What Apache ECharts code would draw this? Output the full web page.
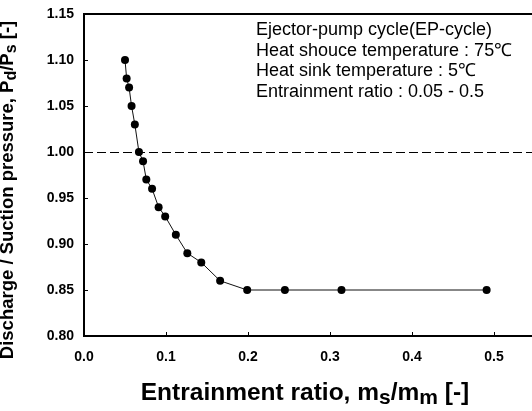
<!DOCTYPE html>
<html>
<head>
<meta charset="utf-8">
<script src="https://cdn.jsdelivr.net/npm/echarts@6/dist/echarts.min.js"></script>
<style>
html,body{margin:0;padding:0;background:#fff;}
#chart{width:532px;height:411px;}
</style>
</head>
<body>
<div id="chart"></div>
<script>
// Data
const entrainmentRatio = [0.050, 0.052, 0.055, 0.058, 0.062, 0.067, 0.072, 0.076, 0.083, 0.091, 0.099, 0.112, 0.126, 0.143, 0.166, 0.199, 0.245, 0.314, 0.491];
const pressureRatio    = [1.10, 1.08, 1.07, 1.05, 1.03, 1.00, 0.99, 0.97, 0.96, 0.94, 0.93, 0.91, 0.89, 0.88, 0.86, 0.85, 0.85, 0.85, 0.85];
const referenceLine = 1.0;
const xTicks = [0.0, 0.1, 0.2, 0.3, 0.4, 0.5, 0.6];
const yTicks = [0.80, 0.85, 0.90, 0.95, 1.00, 1.05, 1.10, 1.15];
const infoLines = [
  'Ejector-pump cycle(EP-cycle)',
  'Heat shouce temperature : 75\u2103',
  'Heat sink temperature : 5\u2103',
  'Entrainment ratio : 0.05 - 0.5'
];

const FONT = 'Liberation Sans, Arial, sans-serif';
const chart = echarts.init(document.getElementById('chart'), null, {renderer: 'canvas'});

const option = {
  backgroundColor: '#fff',
  animation: false,
  grid: {
    left: 84, top: 14, right: -44, bottom: 75,
    containLabel: false,
    outerBoundsMode: 'none',
    show: true, borderColor: '#000', borderWidth: 2, backgroundColor: 'transparent'
  },
  xAxis: {
    type: 'value',
    min: xTicks[0], max: xTicks[xTicks.length - 1], interval: 0.1,
    axisLine: {show: true, lineStyle: {color: '#000', width: 2}},
    axisTick: {show: true, inside: true, length: 4, lineStyle: {color: '#000', width: 1}},
    splitLine: {show: false},
    axisLabel: {
      color: '#000', fontFamily: FONT, fontWeight: 'bold', fontSize: 14, margin: 14,
      formatter: v => v.toFixed(1)
    },
    name: 'Entrainment ratio, m{sub|s}/m{sub|m} [-]',
    nameLocation: 'middle',
    nameGap: 41,
    nameTextStyle: {
      color: '#000', fontFamily: FONT, fontWeight: 'bold', fontSize: 24.5,
      padding: [0, 50, 0, 0],
      rich: {
        sub: {color: '#000', fontFamily: FONT, fontWeight: 'bold', fontSize: 21, padding: [11, 0, 0, 0]}
      }
    }
  },
  yAxis: {
    type: 'value',
    min: yTicks[0], max: yTicks[yTicks.length - 1], interval: 0.05,
    axisLine: {show: true, lineStyle: {color: '#000', width: 2}},
    axisTick: {show: true, inside: true, length: 4, lineStyle: {color: '#000', width: 1}},
    splitLine: {show: false},
    axisLabel: {
      color: '#000', fontFamily: FONT, fontWeight: 'bold', fontSize: 14, margin: 10,
      formatter: v => v.toFixed(2)
    },
    name: 'Discharge / Suction pressure, P{sub|d}/P{sub|s} [-]',
    nameLocation: 'middle',
    nameRotate: 90,
    nameGap: 64,
    nameTextStyle: {
      color: '#000', fontFamily: FONT, fontWeight: 'bold', fontSize: 18.5,
      padding: [0, 30, 0, 0],
      rich: {
        sub: {color: '#000', fontFamily: FONT, fontWeight: 'bold', fontSize: 16, padding: [8, 0, 0, 0]}
      }
    }
  },
  graphic: [{
    type: 'text',
    left: 256, top: 20,
    style: {
      text: infoLines.join('\n'),
      fill: '#000',
      fontSize: 18,
      fontFamily: FONT,
      lineHeight: 20.5
    }
  }],
  series: [{
    type: 'line',
    data: entrainmentRatio.map((x, i) => [x, pressureRatio[i]]),
    symbol: 'circle',
    symbolSize: 8,
    itemStyle: {color: '#000'},
    lineStyle: {color: '#111', width: 1},
    markLine: {
      silent: true,
      symbol: 'none',
      label: {show: false},
      lineStyle: {color: '#000', width: 1, type: [9, 4]},
      data: [{yAxis: referenceLine}]
    }
  }]
};
chart.setOption(option);
</script>
</body>
</html>
